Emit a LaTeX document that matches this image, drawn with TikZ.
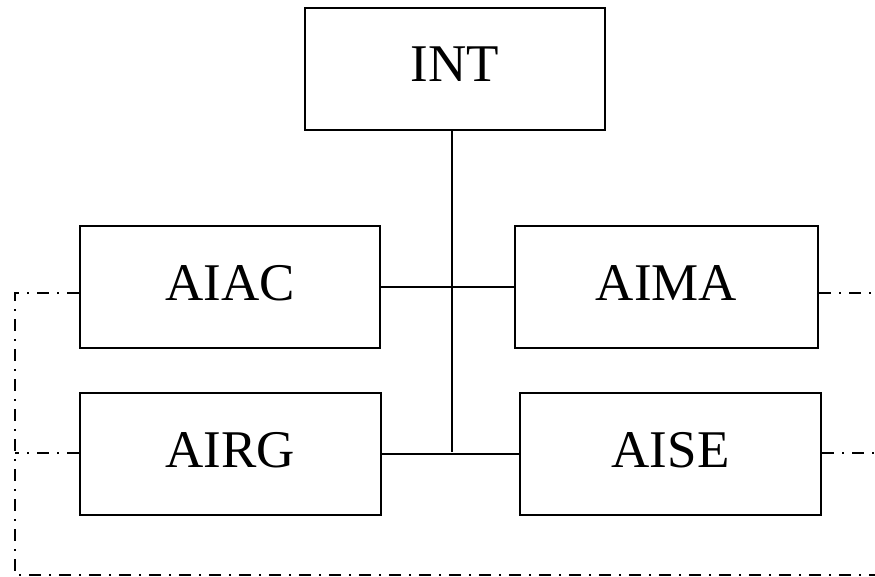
\documentclass[tikz,border=0pt]{standalone}
\usepackage{fontspec}
\setmainfont{Liberation Serif}
\begin{document}
\begin{tikzpicture}[x=1pt,y=-1pt,
  unit/.style={draw,line width=2.2pt,minimum width=300pt,minimum height=122pt,inner sep=0pt,text depth=9pt,font=\fontsize{53}{60}\selectfont},
  link/.style={line width=2.2pt},
  dd/.style={line width=2.6pt,dash pattern=on 12pt off 8pt on 2pt off 8pt}]
\useasboundingbox (0,0) rectangle (875,576);
\clip (0,0) rectangle (875,576);
\node[unit] (int) at (455,69) {INT};
\node[unit] (aiac) at (230,287) {AIAC};
\node[unit,minimum width=303pt] (aima) at (666.5,287) {AIMA};
\node[unit,minimum width=301pt] (airg) at (230.5,454) {AIRG};
\node[unit,minimum width=301pt] (aise) at (670.5,454) {AISE};
\coordinate (jn) at (452,452);
\draw[link] (aiac.east) -- (aima.west);
\draw[link] (airg.east) -- (aise.west);
\draw[link] (int.south -| jn) -- (jn);
\coordinate (l1) at (15,293);
\coordinate (l2) at (15,453);
\coordinate (lb) at (15,575);
\coordinate (rb) at (880,575);
\coordinate (r1) at (880,293);
\coordinate (r2) at (880,453);
\draw[dd] (aiac.west |- l1) -- (l1) -- (lb) -- (rb);
\draw[dd] (airg.west |- l2) -- (l2);
\draw[dd] (aima.east |- r1) -- (r1);
\draw[dd] (aise.east |- r2) -- (r2);
\end{tikzpicture}
\end{document}
